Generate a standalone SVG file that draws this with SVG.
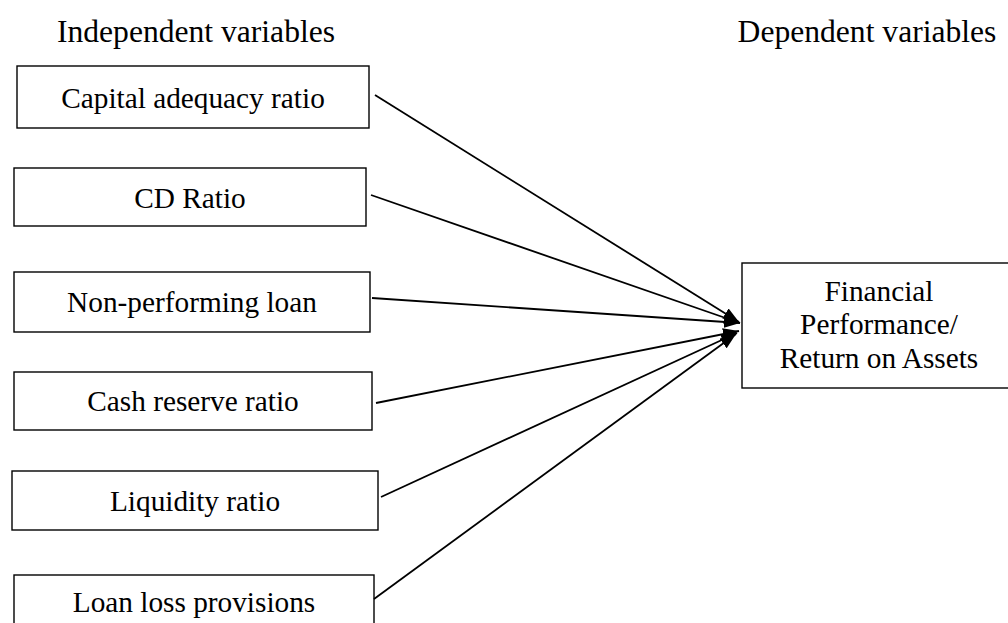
<svg xmlns="http://www.w3.org/2000/svg" width="1008" height="623" viewBox="0 0 1008 623">
<style>
.box{fill:#fff;stroke:#000;stroke-width:1.4}
.t{font-family:"Liberation Serif","Times New Roman",serif;font-size:29.3px;fill:#000;text-anchor:middle}
.h{font-family:"Liberation Serif","Times New Roman",serif;font-size:31.6px;fill:#000;text-anchor:middle}
.c{stroke:#000;stroke-width:1.8;fill:none;marker-end:url(#ah)}
</style>
<defs>
<marker id="ah" markerUnits="userSpaceOnUse" markerWidth="16" markerHeight="12" refX="16" refY="6" orient="auto">
<path d="M0,0 L16,6 L0,12 z" fill="#000"/>
</marker>
</defs>
<rect width="1008" height="623" fill="#fff"/>
<text class="h" x="196" y="42">Independent variables</text>
<text class="h" x="867" y="42">Dependent variables</text>
<g id="n1"><rect class="box" x="17" y="66" width="352" height="62"/><text class="t" x="193" y="108">Capital adequacy ratio</text></g>
<g id="n2"><rect class="box" x="14" y="168" width="352" height="58"/><text class="t" x="190" y="208">CD Ratio</text></g>
<g id="n3"><rect class="box" x="14" y="272" width="356" height="60"/><text class="t" x="192" y="312">Non-performing loan</text></g>
<g id="n4"><rect class="box" x="14" y="372" width="358" height="58"/><text class="t" x="193" y="411">Cash reserve ratio</text></g>
<g id="n5"><rect class="box" x="12" y="471" width="366" height="59"/><text class="t" x="195" y="511">Liquidity ratio</text></g>
<g id="n6"><rect class="box" x="14" y="575" width="360" height="62"/><text class="t" x="194" y="612">Loan loss provisions</text></g>
<g id="n7"><rect class="box" x="742" y="263" width="274" height="125"/>
<text class="t" x="879" y="301">Financial</text>
<text class="t" x="879" y="334">Performance/</text>
<text class="t" x="879" y="368">Return on Assets</text></g>
<g id="connectors">
<line class="c" x1="375" y1="95" x2="739" y2="322"/>
<line class="c" x1="371" y1="195" x2="740" y2="323"/>
<line class="c" x1="372" y1="298" x2="740" y2="323"/>
<line class="c" x1="376" y1="403" x2="739" y2="331"/>
<line class="c" x1="381" y1="497" x2="737" y2="333"/>
<line class="c" x1="374" y1="599" x2="736" y2="334"/>
</g>
</svg>
